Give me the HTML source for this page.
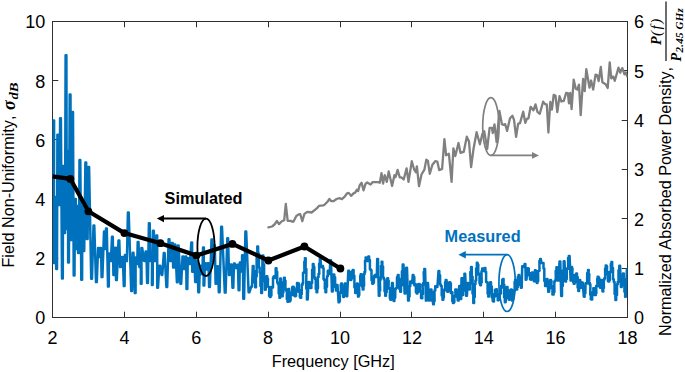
<!DOCTYPE html><html><head><meta charset="utf-8"><style>html,body{margin:0;padding:0;background:#fff}svg{display:block}text{font-family:"Liberation Sans",sans-serif;fill:#000;font-kerning:none}</style></head><body>
<svg width="685" height="372" viewBox="0 0 685 372">
<rect width="685" height="372" fill="#fff"/>
<rect x="52.5" y="21.5" width="575.0" height="296.0" fill="none" stroke="#303030" stroke-width="1"/>
<path d="M52.5 317.5v-5.8M52.5 21.5v5.8" stroke="#303030" stroke-width="1"/>
<text x="52.5" y="343.6" font-size="18" text-anchor="middle">2</text>
<path d="M124.5 317.5v-5.8M124.5 21.5v5.8" stroke="#303030" stroke-width="1"/>
<text x="124.4" y="343.6" font-size="18" text-anchor="middle">4</text>
<path d="M196.5 317.5v-5.8M196.5 21.5v5.8" stroke="#303030" stroke-width="1"/>
<text x="196.2" y="343.6" font-size="18" text-anchor="middle">6</text>
<path d="M268.5 317.5v-5.8M268.5 21.5v5.8" stroke="#303030" stroke-width="1"/>
<text x="268.1" y="343.6" font-size="18" text-anchor="middle">8</text>
<path d="M340.5 317.5v-5.8M340.5 21.5v5.8" stroke="#303030" stroke-width="1"/>
<text x="340.0" y="343.6" font-size="18" text-anchor="middle">10</text>
<path d="M411.5 317.5v-5.8M411.5 21.5v5.8" stroke="#303030" stroke-width="1"/>
<text x="411.9" y="343.6" font-size="18" text-anchor="middle">12</text>
<path d="M483.5 317.5v-5.8M483.5 21.5v5.8" stroke="#303030" stroke-width="1"/>
<text x="483.8" y="343.6" font-size="18" text-anchor="middle">14</text>
<path d="M555.5 317.5v-5.8M555.5 21.5v5.8" stroke="#303030" stroke-width="1"/>
<text x="555.6" y="343.6" font-size="18" text-anchor="middle">16</text>
<path d="M627.5 317.5v-5.8M627.5 21.5v5.8" stroke="#303030" stroke-width="1"/>
<text x="627.5" y="343.6" font-size="18" text-anchor="middle">18</text>
<path d="M52.5 317.5h5.8" stroke="#303030" stroke-width="1"/>
<text x="45.3" y="324.4" font-size="18" text-anchor="end">0</text>
<path d="M52.5 258.5h5.8" stroke="#303030" stroke-width="1"/>
<text x="45.3" y="265.2" font-size="18" text-anchor="end">2</text>
<path d="M52.5 199.5h5.8" stroke="#303030" stroke-width="1"/>
<text x="45.3" y="206.0" font-size="18" text-anchor="end">4</text>
<path d="M52.5 139.5h5.8" stroke="#303030" stroke-width="1"/>
<text x="45.3" y="146.8" font-size="18" text-anchor="end">6</text>
<path d="M52.5 80.5h5.8" stroke="#303030" stroke-width="1"/>
<text x="45.3" y="87.6" font-size="18" text-anchor="end">8</text>
<path d="M52.5 21.5h5.8" stroke="#303030" stroke-width="1"/>
<text x="45.3" y="28.4" font-size="18" text-anchor="end">10</text>
<path d="M627.5 317.5h-5.8" stroke="#303030" stroke-width="1"/>
<text x="634" y="324.4" font-size="18">0</text>
<path d="M627.5 268.5h-5.8" stroke="#303030" stroke-width="1"/>
<text x="634" y="275.1" font-size="18">1</text>
<path d="M627.5 218.5h-5.8" stroke="#303030" stroke-width="1"/>
<text x="634" y="225.7" font-size="18">2</text>
<path d="M627.5 169.5h-5.8" stroke="#303030" stroke-width="1"/>
<text x="634" y="176.4" font-size="18">3</text>
<path d="M627.5 120.5h-5.8" stroke="#303030" stroke-width="1"/>
<text x="634" y="127.1" font-size="18">4</text>
<path d="M627.5 70.5h-5.8" stroke="#303030" stroke-width="1"/>
<text x="634" y="77.7" font-size="18">5</text>
<path d="M627.5 21.5h-5.8" stroke="#303030" stroke-width="1"/>
<text x="634" y="28.4" font-size="18">6</text>
<defs><clipPath id="cp"><rect x="52.5" y="21.5" width="575.0" height="296.0"/></clipPath></defs><g clip-path="url(#cp)">
<polyline points="52.1,175.0 52.9,175.0 53.3,120.4 54.1,120.4 53.9,263.1 54.7,263.1 54.9,196.9 55.7,196.9 56.2,269.1 57.0,269.1 57.4,134.7 58.2,134.7 58.9,205.1 59.7,205.1 60.1,118.3 60.9,118.3 62.0,278.5 62.8,278.5 63.1,165.9 63.9,165.9 64.2,233.1 65.0,233.1 65.6,55.2 66.4,55.2 66.8,229.1 67.6,229.1 67.4,150.9 68.2,150.9 68.1,262.5 68.9,262.5 69.7,94.5 70.5,94.5 70.9,240.1 71.7,240.1 72.2,112.1 73.0,112.1 73.7,275.6 74.5,275.6 75.0,198.9 75.8,198.9 76.0,249.1 76.8,249.1 77.0,205.9 77.8,205.9 78.1,253.0 78.9,253.0 79.5,159.9 80.3,159.9 81.3,279.7 82.1,279.7 82.4,205.9 83.2,205.9 83.4,251.1 84.2,251.1 85.4,162.5 86.2,162.5 86.8,239.1 87.6,239.1 88.3,166.9 89.1,166.9 91.2,278.8 92.0,278.8 93.5,225.5 94.3,225.5 96.0,282.1 96.8,282.1 98.1,247.9 98.9,247.9 99.2,257.1 100.0,257.1 100.2,247.9 101.0,247.9 101.6,277.1 102.4,277.1 104.0,231.5 104.8,231.5 105.0,249.1 105.8,249.1 106.0,228.5 106.8,228.5 108.0,286.6 108.8,286.6 109.0,253.5 109.9,253.5 110.1,261.1 110.9,261.1 112.0,236.7 112.8,236.7 113.4,274.9 114.2,274.9 115.2,247.7 116.0,247.7 116.0,280.1 116.8,280.1 118.5,240.4 119.3,240.4 120.1,267.1 120.9,267.1 121.9,256.9 122.8,256.9 123.8,286.1 124.6,286.1 124.9,255.0 125.8,255.0 126.1,261.1 126.9,261.1 127.9,212.5 128.7,212.5 131.2,291.0 132.0,291.0 132.7,252.8 133.5,252.8 134.8,293.1 135.6,293.1 135.6,257.5 136.4,257.5 136.4,264.1 137.2,264.1 137.7,241.9 138.5,241.9 139.4,267.1 140.2,267.1 140.1,257.8 140.9,257.8 140.8,283.7 141.6,283.7 141.4,248.0 142.2,248.0 144.1,261.1 144.9,261.1 145.6,251.6 146.4,251.6 147.1,283.0 147.9,283.0 148.9,223.3 149.7,223.3 150.6,261.1 151.4,261.1 151.2,255.1 152.1,255.1 151.9,284.9 152.7,284.9 153.0,230.7 153.8,230.7 154.8,261.1 155.6,261.1 156.4,235.4 157.2,235.4 157.2,287.8 158.0,287.8 159.3,265.8 160.2,265.8 161.5,274.9 162.3,274.9 163.8,253.1 164.6,253.1 166.4,287.0 167.2,287.0 168.6,239.3 169.4,239.3 170.3,261.1 171.1,261.1 171.9,242.9 172.7,242.9 173.1,267.6 173.9,267.6 174.4,244.4 175.2,244.4 176.9,282.2 177.7,282.2 177.8,245.5 178.6,245.5 180.4,283.8 181.2,283.8 182.5,256.5 183.3,256.5 184.0,269.1 184.8,269.1 185.4,256.5 186.2,256.5 186.5,289.1 187.3,289.1 187.8,258.3 188.6,258.3 189.1,264.1 189.9,264.1 191.3,242.5 192.1,242.5 192.2,271.7 193.0,271.7 193.7,257.9 194.5,257.9 195.2,282.0 196.0,282.0 196.8,261.0 197.6,261.0 198.3,292.3 199.1,292.3 199.9,265.8 200.7,265.8 201.5,274.2 202.3,274.2 203.1,247.4 203.9,247.4 203.5,285.4 204.3,285.4 204.9,263.2 205.7,263.2 206.3,269.4 207.1,269.4 207.7,263.2 208.5,263.2 209.1,287.0 209.9,287.0 211.5,239.6 212.3,239.6 212.8,261.1 213.6,261.1 214.0,245.3 214.8,245.3 215.6,283.8 216.4,283.8 217.2,266.2 218.0,266.2 218.8,292.3 219.6,292.3 221.2,226.7 222.0,226.7 224.8,292.6 225.6,292.6 227.3,238.3 228.1,238.3 229.0,274.9 229.8,274.9 230.8,264.5 231.6,264.5 232.5,287.8 233.3,287.8 234.0,263.6 234.8,263.6 235.5,268.1 236.3,268.1 237.1,264.8 237.9,264.8 238.6,290.2 239.4,290.2 239.8,262.6 240.6,262.6 240.9,271.6 241.8,271.6 242.1,255.3 242.9,255.3 243.3,298.8 244.1,298.8 245.4,231.5 246.2,231.5 248.6,292.3 249.4,292.3 251.2,286.6 252.0,286.6 252.8,265.9 253.6,265.9 253.6,270.9 254.4,270.9 254.4,282.5 255.2,282.5 255.2,287.3 256.0,287.3 255.9,276.6 256.7,276.6 256.6,257.9 257.4,257.9 257.3,246.5 258.1,246.5 258.1,253.5 258.9,253.5 258.9,267.5 259.7,267.5 259.6,272.6 260.4,272.6 260.4,286.0 261.2,286.0 261.2,293.0 262.0,293.0 262.5,255.4 263.3,255.4 263.3,264.4 264.1,264.4 264.1,281.0 264.9,281.0 264.9,289.7 265.7,289.7 266.5,276.2 267.3,276.2 267.2,278.7 268.0,278.7 267.8,286.5 268.6,286.5 268.5,287.0 269.3,287.0 269.1,295.6 269.9,295.6 269.8,297.0 270.6,297.0 270.6,295.4 271.4,295.4 271.4,287.1 272.2,287.1 272.2,287.5 273.0,287.5 273.0,277.4 273.8,277.4 273.8,276.2 274.6,276.2 274.9,278.1 275.7,278.1 275.7,268.3 276.5,268.3 276.4,271.7 277.2,271.7 277.2,282.5 278.0,282.5 277.9,284.3 278.7,284.3 278.7,293.4 279.5,293.4 279.4,297.8 280.2,297.8 280.2,278.6 281.0,278.6 281.9,296.2 282.7,296.2 282.6,292.4 283.4,292.4 283.3,282.3 284.1,282.3 284.0,277.8 284.8,277.8 284.7,280.8 285.5,280.8 285.4,289.3 286.2,289.3 286.1,290.7 286.9,290.7 286.8,299.2 287.6,299.2 287.5,301.8 288.3,301.8 288.3,289.1 289.1,289.1 289.1,301.4 289.9,301.4 289.8,300.6 290.6,300.6 290.6,292.8 291.4,292.8 291.3,294.9 292.1,294.9 292.1,287.2 292.9,287.2 292.8,286.7 293.6,286.7 293.5,287.6 294.3,287.6 294.1,295.5 294.9,295.5 294.8,296.2 295.6,296.2 295.3,295.8 296.1,295.8 295.9,289.2 296.7,289.2 296.4,291.6 297.2,291.6 297.0,283.0 297.8,283.0 297.5,283.5 298.3,283.5 298.1,283.6 298.9,283.6 298.7,291.8 299.5,291.8 299.2,290.1 300.0,290.1 299.8,296.8 300.6,296.8 300.4,297.8 301.2,297.8 301.0,294.1 301.8,294.1 301.7,284.9 302.5,284.9 302.3,283.5 303.1,283.5 303.0,273.1 303.8,273.1 303.6,272.3 304.4,272.3 304.3,261.8 305.1,261.8 304.9,258.2 305.7,258.2 305.6,269.0 306.4,269.0 306.2,288.4 307.0,288.4 306.9,299.4 307.7,299.4 308.5,281.9 309.3,281.9 309.2,282.5 310.0,282.5 309.9,287.8 310.7,287.8 310.6,288.1 311.4,288.1 311.3,282.9 312.1,282.9 312.1,269.8 312.9,269.8 312.8,264.0 313.6,264.0 313.5,266.7 314.3,266.7 314.3,277.4 315.1,277.4 315.0,279.3 315.8,279.3 315.8,289.0 316.6,289.0 316.5,292.2 317.3,292.2 317.2,288.2 318.0,288.2 317.8,277.1 318.6,277.1 318.5,274.0 319.3,274.0 319.1,263.7 319.9,263.7 319.8,259.1 320.6,259.1 321.0,267.1 321.8,267.1 322.2,265.9 323.0,265.9 322.8,268.2 323.6,268.2 323.5,279.1 324.3,279.1 324.1,280.0 324.9,280.0 324.8,288.8 325.6,288.8 325.4,292.2 326.2,292.2 326.2,286.7 327.0,286.7 327.0,276.3 327.8,276.3 327.8,270.7 328.6,270.7 329.0,274.1 329.8,274.1 330.2,260.3 331.0,260.3 331.9,291.4 332.7,291.4 333.5,274.6 334.3,274.6 334.3,277.2 335.1,277.2 335.1,287.0 335.9,287.0 335.9,290.6 336.7,290.6 336.7,285.1 337.5,285.1 338.6,302.3 339.4,302.3 339.1,300.9 339.9,300.9 339.6,292.6 340.4,292.6 340.2,292.8 341.0,292.8 340.7,284.7 341.5,284.7 341.2,283.5 342.0,283.5 343.1,297.0 343.9,297.0 344.8,283.5 345.6,283.5 346.4,296.2 347.2,296.2 348.3,270.7 349.1,270.7 349.0,272.1 349.8,272.1 349.7,279.4 350.5,279.4 350.4,280.1 351.2,280.1 351.2,278.4 352.0,278.4 352.0,271.2 352.8,271.2 352.8,269.9 353.6,269.9 353.6,275.8 354.4,275.8 354.4,287.2 355.2,287.2 355.2,293.0 356.0,293.0 356.9,283.5 357.7,283.5 358.0,296.6 358.8,296.6 358.5,295.1 359.3,295.1 359.1,284.9 359.9,284.9 359.6,285.1 360.4,285.1 360.2,275.9 361.0,275.9 360.7,274.2 361.5,274.2 361.4,277.5 362.2,277.5 362.0,286.4 362.8,286.4 362.7,289.4 363.5,289.4 363.3,285.8 364.1,285.8 363.9,274.1 364.7,274.1 364.4,271.9 365.2,271.9 365.0,260.8 365.8,260.8 365.6,257.4 366.4,257.4 367.0,261.1 367.8,261.1 368.3,256.5 369.1,256.5 369.1,260.1 369.9,260.1 369.9,269.3 370.7,269.3 370.7,270.2 371.5,270.2 371.5,280.3 372.3,280.3 372.3,283.7 373.1,283.7 373.1,282.7 373.9,282.7 374.0,276.3 374.8,276.3 374.8,275.0 375.6,275.0 376.0,277.1 376.8,277.1 377.2,258.9 378.0,258.9 378.8,295.8 379.6,295.8 379.4,290.6 380.2,290.6 379.9,279.8 380.7,279.8 380.5,277.2 381.3,277.2 381.0,266.1 381.8,266.1 381.6,261.7 382.4,261.7 382.3,266.5 383.1,266.5 383.0,277.5 383.8,277.5 383.8,279.2 384.6,279.2 384.5,291.2 385.3,291.2 385.2,295.8 386.0,295.8 385.9,292.3 386.7,292.3 386.6,281.3 387.4,281.3 387.3,278.3 388.1,278.3 387.9,280.8 388.7,280.8 388.5,288.6 389.3,288.6 389.2,288.3 390.0,288.3 389.8,298.2 390.6,298.2 390.4,299.8 391.2,299.8 392.0,283.1 392.8,283.1 393.6,301.0 394.4,301.0 394.4,297.7 395.2,297.7 395.3,288.8 396.1,288.8 396.1,288.0 396.9,288.0 397.0,277.3 397.8,277.3 397.8,275.0 398.6,275.0 398.6,278.8 399.4,278.8 399.4,289.1 400.2,289.1 400.2,291.8 401.0,291.8 401.0,285.5 401.8,285.5 401.9,271.2 402.7,271.2 402.7,264.5 403.5,264.5 404.6,293.4 405.4,293.4 406.2,267.8 407.0,267.8 408.1,300.6 408.9,300.6 408.8,296.4 409.6,296.4 409.5,286.2 410.3,286.2 410.2,281.5 411.0,281.5 411.4,283.1 412.2,283.1 412.7,275.0 413.5,275.0 413.5,277.1 414.3,277.1 414.3,285.3 415.1,285.3 415.1,284.2 415.9,284.2 415.9,292.3 416.7,292.3 416.7,293.4 417.5,293.4 417.4,292.1 418.2,292.1 418.1,284.3 418.9,284.3 418.8,283.9 419.6,283.9 419.3,284.4 420.1,284.4 419.9,291.6 420.7,291.6 420.4,290.7 421.2,290.7 421.0,297.9 421.8,297.9 421.5,298.2 422.3,298.2 422.1,293.9 422.9,293.9 422.6,284.6 423.4,284.6 423.2,283.0 424.0,283.0 423.7,272.0 424.5,272.0 424.3,268.9 425.1,268.9 425.9,300.6 426.7,300.6 427.2,283.1 428.0,283.1 429.1,300.6 429.9,300.6 430.7,289.5 431.5,289.5 431.5,292.0 432.3,292.0 432.3,301.2 433.1,301.2 433.1,304.2 433.9,304.2 433.8,301.1 434.6,301.1 434.5,290.5 435.3,290.5 435.2,286.3 436.0,286.3 436.6,287.1 437.4,287.1 438.5,271.0 439.3,271.0 439.3,275.2 440.1,275.2 440.1,284.4 440.9,284.4 440.9,286.1 441.7,286.1 441.7,295.6 442.5,295.6 442.5,299.8 443.3,299.8 443.1,297.6 443.9,297.6 443.8,289.8 444.6,289.8 444.4,290.2 445.2,290.2 445.1,282.2 445.9,282.2 445.7,279.9 446.5,279.9 447.3,291.8 448.1,291.8 448.0,290.7 448.8,290.7 448.7,282.6 449.5,282.6 449.4,282.3 450.2,282.3 450.1,283.5 450.9,283.5 450.8,293.1 451.6,293.1 451.6,292.2 452.4,292.2 452.3,301.3 453.1,301.3 453.0,303.1 453.8,303.1 453.6,302.1 454.4,302.1 454.2,296.1 455.0,296.1 454.7,296.5 455.5,296.5 455.3,289.4 456.1,289.4 455.9,289.5 456.7,289.5 457.8,300.6 458.6,300.6 459.2,285.9 460.0,285.9 460.4,299.1 461.2,299.1 461.5,278.3 462.3,278.3 462.3,295.0 463.1,295.0 463.0,290.5 463.8,290.5 463.7,277.9 464.5,277.9 464.4,273.7 465.2,273.7 466.1,295.8 466.9,295.8 467.7,283.1 468.5,283.1 469.0,289.4 469.8,289.4 469.7,283.4 470.5,283.4 470.3,271.9 471.1,271.9 471.0,266.9 471.8,266.9 471.8,276.7 472.6,276.7 472.5,293.6 473.3,293.6 473.3,303.1 474.1,303.1 474.0,297.0 474.8,297.0 474.7,283.9 475.5,283.9 475.4,280.5 476.2,280.5 476.1,268.5 476.9,268.5 476.8,262.7 477.6,262.7 477.5,264.6 478.3,264.6 478.2,274.6 479.0,274.6 478.8,273.7 479.6,273.7 479.5,283.3 480.3,283.3 480.2,285.3 481.0,285.3 480.9,282.4 481.7,282.4 481.5,271.3 482.3,271.3 482.2,268.6 483.0,268.6 483.4,271.1 484.2,271.1 484.6,268.1 485.4,268.1 485.3,271.8 486.1,271.8 486.1,282.0 486.9,282.0 486.8,282.3 487.6,282.3 487.6,293.7 488.4,293.7 488.3,296.6 489.1,296.6 490.2,282.3 491.0,282.3 491.0,286.4 491.8,286.4 491.9,297.5 492.7,297.5 492.7,301.0 493.5,301.0 493.2,301.5 494.0,301.5 493.8,294.0 494.6,294.0 494.3,296.5 495.1,296.5 494.9,289.7 495.7,289.7 495.4,289.5 496.2,289.5 496.0,289.2 496.8,289.2 496.6,296.0 497.4,296.0 497.1,294.1 497.9,294.1 497.7,300.2 498.5,300.2 498.3,299.8 499.1,299.8 498.9,299.8 499.7,299.8 499.6,291.1 500.4,291.1 500.2,293.5 501.0,293.5 500.9,285.9 501.7,285.9 501.5,287.6 502.3,287.6 502.2,279.7 503.0,279.7 502.8,279.1 503.6,279.1 503.5,284.7 504.3,284.7 504.1,297.3 504.9,297.3 504.8,302.3 505.6,302.3 506.7,287.1 507.5,287.1 507.4,289.7 508.2,289.7 508.1,298.2 508.9,298.2 508.8,299.8 509.6,299.8 509.5,297.9 510.3,297.9 510.2,290.5 511.0,290.5 510.9,289.5 511.7,289.5 512.0,300.6 512.8,300.6 512.6,298.7 513.4,298.7 513.3,290.5 514.1,290.5 513.9,290.7 514.7,290.7 514.6,281.8 515.4,281.8 515.2,279.9 516.0,279.9 516.4,289.4 517.2,289.4 517.1,287.0 517.9,287.0 517.8,276.9 518.6,276.9 518.5,275.0 519.3,275.0 519.3,277.3 520.1,277.3 520.1,285.0 520.9,285.0 520.9,287.7 521.7,287.7 522.2,266.2 523.0,266.2 523.4,267.1 524.2,267.1 524.6,263.9 525.4,263.9 525.7,279.7 526.5,279.7 527.4,268.2 528.2,268.2 528.0,268.5 528.8,268.5 528.7,275.3 529.5,275.3 529.3,273.3 530.1,273.3 530.0,279.2 530.8,279.2 530.6,279.7 531.4,279.7 531.9,272.6 532.7,272.6 533.8,281.3 534.6,281.3 534.9,270.2 535.7,270.2 536.7,282.9 537.5,282.9 537.4,281.0 538.2,281.0 538.1,270.9 538.9,270.9 538.7,270.8 539.5,270.8 539.4,261.0 540.2,261.0 540.1,259.1 540.9,259.1 541.4,263.1 542.2,263.1 542.7,262.9 543.5,262.9 543.5,268.6 544.3,268.6 544.3,280.9 545.1,280.9 545.1,286.1 545.9,286.1 546.7,279.1 547.5,279.1 548.3,291.8 549.1,291.8 550.2,279.9 551.0,279.9 550.7,281.0 551.5,281.0 551.3,287.9 552.1,287.9 551.8,286.0 552.6,286.0 552.4,294.5 553.2,294.5 552.9,294.6 553.7,294.6 553.6,291.9 554.4,291.9 554.3,281.6 555.1,281.6 555.0,280.5 555.8,280.5 555.7,270.7 556.5,270.7 556.4,267.2 557.2,267.2 557.9,280.6 558.7,280.6 559.5,261.4 560.3,261.4 561.2,295.9 562.0,295.9 562.0,286.0 562.8,286.0 562.9,270.5 563.7,270.5 563.7,261.2 564.5,261.2 565.3,281.4 566.1,281.4 566.0,279.1 566.8,279.1 566.7,268.4 567.5,268.4 567.4,268.7 568.2,268.7 568.1,258.1 568.9,258.1 568.8,255.9 569.6,255.9 570.6,280.6 571.4,280.6 571.2,267.0 572.0,267.0 571.7,268.4 572.5,268.4 572.2,275.5 573.0,275.5 572.8,274.9 573.6,274.9 573.3,282.4 574.1,282.4 573.8,283.8 574.6,283.8 574.6,282.2 575.4,282.2 575.4,274.8 576.2,274.8 576.2,273.5 577.0,273.5 576.9,276.9 577.7,276.9 577.6,287.4 578.4,287.4 578.3,291.0 579.1,291.0 579.4,279.9 580.2,279.9 581.1,287.8 581.9,287.8 581.9,282.4 582.7,282.4 583.8,296.7 584.6,296.7 584.6,293.3 585.4,293.3 585.5,283.2 586.3,283.2 586.3,283.6 587.1,283.6 587.2,273.1 588.0,273.1 588.0,269.9 588.8,269.9 588.5,274.1 589.3,274.1 589.1,283.1 589.9,283.1 589.6,284.6 590.4,284.6 590.2,294.8 591.0,294.8 590.7,299.1 591.5,299.1 591.4,299.6 592.2,299.6 592.0,292.6 592.8,292.6 592.7,294.9 593.5,294.9 593.3,288.2 594.1,288.2 594.0,288.8 594.8,288.8 595.1,295.1 595.9,295.1 595.6,292.9 596.4,292.9 596.1,286.0 596.9,286.0 596.7,286.2 597.5,286.2 597.2,278.8 598.0,278.8 597.7,276.7 598.5,276.7 598.4,277.7 599.2,277.7 599.2,286.0 600.0,286.0 599.9,287.8 600.7,287.8 600.9,279.9 601.7,279.9 602.5,291.4 603.3,291.4 603.1,287.9 603.9,287.9 603.8,279.4 604.6,279.4 604.4,278.2 605.2,278.2 605.1,268.4 605.9,268.4 605.7,265.4 606.5,265.4 606.3,266.2 607.1,266.2 606.8,274.3 607.6,274.3 607.4,272.3 608.2,272.3 607.9,281.1 608.7,281.1 608.5,281.4 609.3,281.4 609.1,280.0 609.9,280.0 609.7,271.8 610.5,271.8 610.2,271.9 611.0,271.9 610.8,264.0 611.6,264.0 611.4,261.9 612.2,261.9 612.2,268.0 613.0,268.0 613.0,279.3 613.8,279.3 613.8,282.1 614.6,282.1 614.6,294.1 615.4,294.1 615.4,299.9 616.2,299.9 616.2,295.0 617.0,295.0 617.0,284.2 617.8,284.2 617.7,281.9 618.5,281.9 618.5,270.3 619.3,270.3 619.3,265.7 620.1,265.7 620.9,287.0 621.7,287.0 621.6,284.9 622.4,284.9 622.3,275.4 623.1,275.4 623.0,273.5 623.8,273.5 623.7,279.1 624.5,279.1 624.4,291.7 625.2,291.7 625.1,296.7 625.9,296.7 626.9,269.4 627.7,269.4" fill="none" stroke="#0072BD" stroke-width="2.5" stroke-linejoin="round" stroke-linecap="round"/>
<polyline points="268.4,227.3 272.1,226.5 274.5,224.5 276.9,221.0 279.0,224.1 281.8,221.3 284.2,220.3 285.8,203.8 287.7,220.8 290.6,220.9 291.8,221.5 293.4,221.7 296.3,216.0 298.7,214.4 300.3,214.2 302.3,221.2 304.4,213.9 307.6,211.8 311.6,212.5 316.5,208.7 318.9,205.9 321.0,205.6 323.2,205.4 324.5,204.8 327.7,201.5 329.4,198.9 331.0,201.0 333.4,201.2 336.6,199.0 339.4,198.1 341.9,199.1 344.7,196.6 347.1,193.3 348.7,192.9 351.1,195.9 353.5,193.4 355.2,192.6 356.8,189.7 358.1,191.1 359.7,185.3 361.6,182.8 363.5,190.3 365.6,183.7 367.3,182.5 370.6,184.6 372.7,182.1 377.9,182.1 379.8,182.7 381.5,173.1 383.1,183.5 384.7,175.2 386.8,181.9 388.7,171.5 392.1,185.9 394.4,175.2 395.6,177.0 397.6,169.9 399.7,177.3 401.3,177.3 403.7,179.5 406.6,168.3 408.5,181.9 411.8,161.2 414.2,169.7 415.8,172.2 416.9,166.3 419.0,186.2 421.5,174.5 424.4,169.7 426.3,159.6 427.9,160.8 429.8,173.8 432.4,164.8 435.2,161.2 437.3,161.6 439.2,170.1 442.1,168.9 444.4,139.2 446.1,155.3 448.9,153.8 451.6,181.9 453.4,148.3 455.3,156.1 458.5,143.0 460.5,152.8 463.7,151.9 466.8,136.7 469.0,141.5 471.1,167.1 473.5,149.0 476.6,132.2 479.9,144.3 482.4,133.8 484.2,131.1 487.2,148.8 489.6,127.8 491.9,127.8 492.8,133.1 494.5,124.3 496.6,142.1 499.4,110.9 501.9,124.2 503.5,124.8 505.2,124.2 507.1,130.9 510.0,118.2 512.4,115.7 514.0,119.8 516.1,136.9 518.1,123.9 520.0,123.1 523.2,111.7 525.3,122.8 526.9,118.9 528.5,118.3 530.6,106.8 533.4,110.3 535.5,104.4 537.4,111.8 539.8,113.8 543.1,101.7 545.2,104.2 546.8,104.5 548.4,132.5 550.3,102.0 551.9,109.5 553.7,94.9 555.5,95.8 557.3,112.1 559.5,96.1 561.4,101.5 563.8,100.9 566.1,93.0 567.8,93.2 569.0,103.4 570.2,93.0 571.6,109.1 573.7,79.7 575.8,88.7 577.4,89.6 579.0,84.6 580.7,115.1 583.1,78.9 584.7,91.2 586.3,69.2 589.5,87.7 591.1,80.5 593.2,89.6 595.5,74.6 597.1,75.0 598.7,81.2 600.8,66.8 602.4,82.3 605.6,84.2 607.7,88.0 609.7,62.3 611.3,78.3 613.2,76.5 614.8,80.8 618.5,67.6 620.2,72.7 622.3,68.1 624.5,74.3 625.8,72.5 627.3,76.6" fill="none" stroke="#808080" stroke-width="2.3" stroke-linejoin="round" stroke-linecap="round"/>
<polyline points="52.4,176.3 70.4,178.9 88.4,211.3 124.4,233.1 160.4,243.2 196.4,255.6 232.4,243.9 268.4,260.5 304.4,246.5 340.4,268.5" fill="none" stroke="#000" stroke-width="4.2" stroke-linejoin="round"/>
<circle cx="70.4" cy="178.9" r="3.9" fill="#000"/>
<circle cx="88.4" cy="211.3" r="3.9" fill="#000"/>
<circle cx="124.4" cy="233.1" r="3.9" fill="#000"/>
<circle cx="160.4" cy="243.2" r="3.9" fill="#000"/>
<circle cx="196.4" cy="255.6" r="3.9" fill="#000"/>
<circle cx="232.4" cy="243.9" r="3.9" fill="#000"/>
<circle cx="268.4" cy="260.5" r="3.9" fill="#000"/>
<circle cx="304.4" cy="246.5" r="3.9" fill="#000"/>
<circle cx="340.4" cy="268.5" r="3.9" fill="#000"/>
</g>
<text x="271.7" y="366.5" font-size="16.3">Frequency [GHz]</text>
<g transform="translate(14.4,267.6) rotate(-90)"><text x="0" y="0" font-size="16.2">Field Non-Uniformity,</text><text x="157.6" y="0.6" font-size="18" font-family="Liberation Serif" style="font-family:'Liberation Serif',serif;font-style:italic;font-weight:bold">σ</text><text x="168.1" y="3.8" font-size="13" textLength="17.2" lengthAdjust="spacingAndGlyphs" style="font-family:'Liberation Serif',serif;font-style:italic;font-weight:bold">dB</text></g>
<g transform="translate(671.4,336) rotate(-90)"><text x="0" y="0" font-size="16.2">Normalized Absorbed Power Density,</text><path d="M275 -5.4H334.4" stroke="#000" stroke-width="1.15"/><text x="291" y="-10" font-size="14" style="font-family:'Liberation Serif',serif;font-style:italic;font-weight:bold">P</text><text x="300" y="-10" font-size="15" letter-spacing="1.5" style="font-family:'Liberation Serif',serif;font-style:italic">(f)</text><text x="274.6" y="9.6" font-size="14" style="font-family:'Liberation Serif',serif;font-style:italic;font-weight:bold">P</text><text x="283.6" y="12" font-size="11" letter-spacing="0.2" style="font-family:'Liberation Serif',serif;font-style:italic;font-weight:bold">2.45 GHz</text></g>
<text x="164.6" y="203.9" font-size="16.3" font-weight="bold">Simulated</text>
<text x="444.6" y="241.5" font-size="16.3" font-weight="bold" style="fill:#0072BD">Measured</text>
<ellipse cx="206" cy="247.3" rx="8.6" ry="28.7" fill="none" stroke="#000" stroke-width="1.8"/>
<path d="M206 218.6H162" stroke="#000" stroke-width="2"/><path d="M156.8 218.6L164 215V222.2Z" fill="#000"/>
<ellipse cx="507.1" cy="283.1" rx="8.2" ry="28.4" fill="none" stroke="#0072BD" stroke-width="1.7"/>
<path d="M507 254.7H464" stroke="#0072BD" stroke-width="1.7"/><path d="M458.4 254.7L465.8 251V258.4Z" fill="#0072BD"/>
<ellipse cx="490.9" cy="126.6" rx="8.2" ry="28.9" fill="none" stroke="#808080" stroke-width="1.7"/>
<path d="M490.5 155.4H533" stroke="#808080" stroke-width="1.7"/><path d="M539 155.4L532 152V158.8Z" fill="#808080"/>
</svg></body></html>
